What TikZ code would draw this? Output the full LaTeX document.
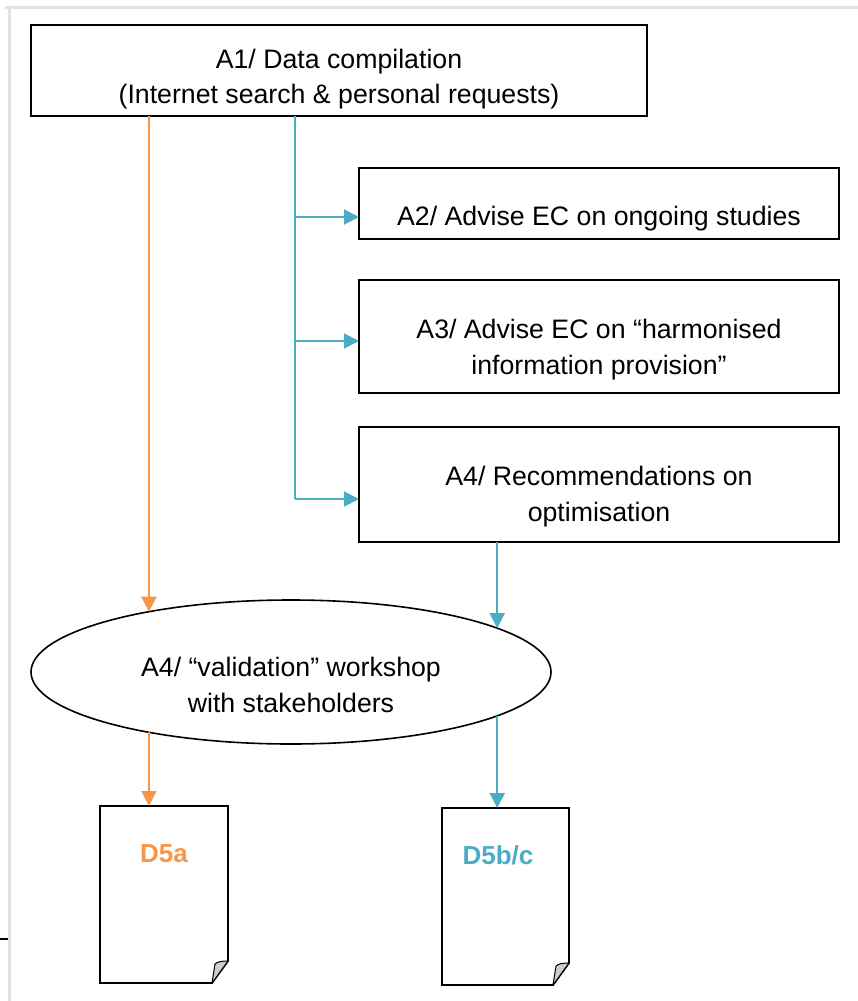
\documentclass[tikz,border=0pt]{standalone}
\usepackage{fontspec}
\setmainfont{Liberation Sans}
\usetikzlibrary{arrows.meta,shapes.geometric,calc}
\definecolor{flowor}{HTML}{F79646}
\definecolor{flowbl}{HTML}{4BACC6}
\definecolor{framegray}{HTML}{E2E2E2}
\begin{document}
\begin{tikzpicture}[x=1pt,y=-1pt,
  every node/.style={font=\fontsize{26.7}{36}\selectfont},
  box/.style={draw, line width=1.8pt, inner sep=0pt, outer sep=0pt, anchor=north west},
  docbox/.style={inner sep=0pt, outer sep=0pt, anchor=north west, minimum width=128pt, minimum height=177pt},
  docline/.style={line width=1.8pt, line join=miter},
  flap/.style={fill=gray!40, draw=black, line width=1pt, line join=round},
  txt/.style={anchor=base, inner sep=0pt},
  doclabel/.style={anchor=base, inner sep=0pt, font=\fontsize{26}{30}\selectfont\bfseries},
  flowlink/.style={line width=2pt},
  flowarrow/.style={line width=2pt, -{Triangle[length=15pt,width=15pt]}}]
\useasboundingbox (0,0) rectangle (858,1001);

% page frame
\draw[framegray, line width=3pt] (5,7.5) -- (858,7.5);
\draw[framegray, line width=3pt] (9.5,7.5) -- (9.5,1001);
\draw[line width=1.5pt] (0,939) -- (8,939);

% activity boxes
\node[box, minimum width=616pt, minimum height=91pt] (a1) at (31,25) {};
\node[box, minimum width=480pt, minimum height=71pt] (a2) at (359,168) {};
\node[box, minimum width=480pt, minimum height=113pt] (a3) at (359,280) {};
\node[box, minimum width=480pt, minimum height=115pt] (a4) at (359,427) {};
\node[ellipse, draw, line width=1.6pt, inner sep=0pt, outer sep=0pt,
      minimum width=520pt, minimum height=144pt] (ell) at (291,672) {};

% box texts
\node[txt] (a1t1) at (339,68) {A1/ Data compilation};
\node[txt] (a1t2) at (339,103) {(Internet search \& personal requests)};
\node[txt] (a2t1) at (599,225) {A2/ Advise EC on ongoing studies};
\node[txt] (a3t1) at (599,338) {A3/ Advise EC on “harmonised};
\node[txt] (a3t2) at (599,374) {information provision”};
\node[txt] (a4t1) at (599,485) {A4/ Recommendations on};
\node[txt] (a4t2) at (599,521) {optimisation};
\node[txt] (et1) at (291,676) {A4/ “validation” workshop};
\node[txt] (et2) at (291,712) {with stakeholders};

% deliverable documents
\node[docbox] (d5a) at (100,806) {};
\node[docbox, minimum width=127pt] (d5b) at (442,808) {};
\foreach \d in {d5a,d5b}{
  \draw[docline] (\d.north west) -- (\d.north east) -- ([yshift=22pt]\d.south east)
    -- ([xshift=-16pt]\d.south east) -- (\d.south west) -- cycle;
  \draw[flap] ([yshift=22pt]\d.south east)
    .. controls ([xshift=-7pt,yshift=22pt]\d.south east) and ([xshift=-11pt,yshift=21pt]\d.south east)
    .. ([xshift=-13pt,yshift=19pt]\d.south east) -- ([xshift=-16pt]\d.south east) -- cycle;
}
\node[doclabel, text=flowor] (d5at) at (164,862) {D5a};
\node[doclabel, text=flowbl] (d5bt) at (498,864) {D5b/c};

% points where the flows meet the workshop ellipse
\coordinate (otop) at (ell.157);
\coordinate (obot) at ($(otop)!2!(otop |- ell.center)$);
\coordinate (btop) at (ell.12.2);
\coordinate (bbot) at ($(btop)!2!(btop |- ell.center)$);

% orange flow
\draw[flowarrow, flowor] (a1.south -| otop) -- (otop);
\draw[flowarrow, flowor] (obot) -- (obot |- d5a.north);

% blue flow: trunk and branches
\coordinate (b2) at (295,217);
\coordinate (b3) at (295,341);
\coordinate (b4) at (295,499);
\draw[flowlink, flowbl] (a1.south -| b4) -- (b4);
\draw[flowarrow, flowbl] (b2) -- (b2 -| a2.west);
\draw[flowarrow, flowbl] (b3) -- (b3 -| a3.west);
\draw[flowarrow, flowbl] (b4) -- (b4 -| a4.west);
\draw[flowarrow, flowbl] (a4.south -| btop) -- (btop);
\draw[flowarrow, flowbl] (bbot) -- (bbot |- d5b.north);
\end{tikzpicture}
\end{document}
